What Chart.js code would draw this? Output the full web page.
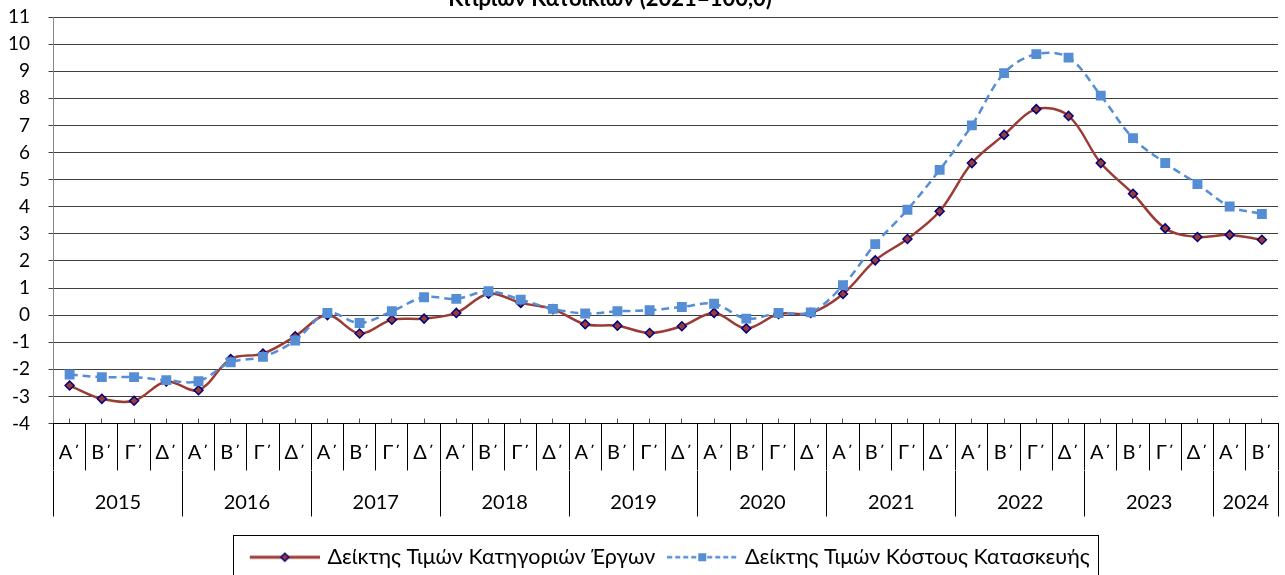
<!DOCTYPE html>
<html lang="el">
<head>
<meta charset="utf-8">
<script src="https://cdn.jsdelivr.net/npm/chart.js@4.4.1/dist/chart.umd.min.js"></script>
<style>
  html, body { margin: 0; padding: 0; background: #fff; }
  #wrap { position: relative; width: 1285px; height: 575px; overflow: hidden; }
</style>
</head>
<body>
<div id="wrap"><canvas id="chart" width="1285" height="575"></canvas></div>
<script>
// --- DATA ---
const titleText = 'Κτιρίων Κατοικιών (2021=100,0)';
const years = ['2015', '2016', '2017', '2018', '2019', '2020', '2021', '2022', '2023', '2024'];
const quartersPerYear = [4, 4, 4, 4, 4, 4, 4, 4, 4, 2];
const quarterNames = ['Α΄', 'Β΄', 'Γ΄', 'Δ΄'];

const worksLabel = 'Δείκτης Τιμών Κατηγοριών Έργων';
const worksIndex = [
  -2.60, -3.09, -3.16, -2.45,   // 2015
  -2.77, -1.62, -1.42, -0.78,   // 2016
   0.00, -0.68, -0.17, -0.13,   // 2017
   0.08,  0.79,  0.45,  0.22,   // 2018
  -0.34, -0.39, -0.66, -0.41,   // 2019
   0.08, -0.49,  0.04,  0.08,   // 2020
   0.78,  2.02,  2.81,  3.83,   // 2021
   5.61,  6.65,  7.60,  7.35,   // 2022
   5.61,  4.48,  3.20,  2.88,   // 2023
   2.96,  2.78                  // 2024
];

const costLabel = 'Δείκτης Τιμών Κόστους Κατασκευής';
const costIndex = [
  -2.19, -2.29, -2.29, -2.40,
  -2.44, -1.74, -1.54, -0.94,
   0.08, -0.29,  0.14,  0.66,
   0.60,  0.88,  0.57,  0.23,
   0.06,  0.14,  0.18,  0.30,
   0.42, -0.13,  0.08,  0.10,
   1.10,  2.62,  3.89,  5.36,
   7.00,  8.93,  9.63,  9.50,
   8.10,  6.53,  5.61,  4.84,
   4.01,  3.73
];

const yMin = -4;
const yMax = 11;

// --- COLOURS / FONTS ---
const RED = '#9c3b34';
const NAVY = '#000080';
const BLUE = '#558ed5';
const TICK_FONT = { family: 'Lato', size: 19 };
const CAT_FONT = { family: 'Lato', size: 20 };
const LEGEND_FONT = { family: 'Lato', size: 21.5 };

// quarter categories built from the year layout
const categories = [];
quartersPerYear.forEach(n => {
  for (let q = 0; q < n; q++) categories.push(quarterNames[q]);
});

// year axis ticks: borders between years plus a labelled tick in each year's middle
const yearTicks = [];
const yearAtValue = new Map();
let startIdx = 0;
quartersPerYear.forEach((n, i) => {
  yearTicks.push(startIdx - 0.5);
  const mid = startIdx + (n - 1) / 2;
  yearTicks.push(mid);
  yearAtValue.set(mid, years[i]);
  startIdx += n;
});
yearTicks.push(startIdx - 0.5);

// the legend in the original sits a little right of centre:
// a lead-in of spaces on the first entry nudges the whole row over
const LEAD = '  ';
const measure = document.createElement('canvas').getContext('2d');
measure.font = LEGEND_FONT.size + 'px ' + LEGEND_FONT.family;
const leadWidth = measure.measureText(LEAD).width;

// --- LEGEND SAMPLES (line with marker, like the spreadsheet) ---
function makeSample(kind, shift) {
  const c = document.createElement('canvas');
  c.width = 70 + 2 * shift; c.height = 16;
  const g = c.getContext('2d');
  g.translate(2 * shift, 0);
  if (kind === 'works') {
    g.strokeStyle = RED; g.lineWidth = 3;
    g.beginPath(); g.moveTo(0, 8); g.lineTo(70, 8); g.stroke();
    g.beginPath();
    g.moveTo(35, 4); g.lineTo(39, 8); g.lineTo(35, 12); g.lineTo(31, 8); g.closePath();
    g.fillStyle = RED; g.fill();
    g.strokeStyle = NAVY; g.lineWidth = 1.5; g.stroke();
  } else {
    g.strokeStyle = BLUE; g.lineWidth = 2.5;
    g.setLineDash([5, 3]);
    g.beginPath(); g.moveTo(0, 8); g.lineTo(70, 8); g.stroke();
    g.fillStyle = BLUE;
    g.fillRect(31, 4, 8, 8);
  }
  return c;
}
const legendSamples = [makeSample('works', leadWidth), makeSample('cost', 0)];
const legendTexts = [LEAD + worksLabel, costLabel];

// --- PLUGINS ---
const cutTitle = {
  id: 'cutTitle',
  afterDraw(chart) {
    const ctx = chart.ctx;
    ctx.save();
    ctx.font = 'bold 22px Lato';
    ctx.fillStyle = '#000';
    ctx.textAlign = 'center';
    ctx.textBaseline = 'alphabetic';
    ctx.fillText(titleText, 610, 6);
    ctx.restore();
  }
};

const legendFrame = {
  id: 'legendFrame',
  afterDraw(chart) {
    const lg = chart.legend;
    const hb = lg.legendHitBoxes;
    if (!hb || !hb.length) return;
    const last = hb[hb.length - 1];
    const x0 = Math.round(hb[0].left + leadWidth - 20) + 0.5;
    const x1 = Math.round(last.left + last.width + 8) + 0.5;
    const y0 = Math.round(lg.top + 3) + 0.5;
    const ctx = chart.ctx;
    ctx.save();
    ctx.strokeStyle = '#000';
    ctx.lineWidth = 1;
    ctx.strokeRect(x0, y0, x1 - x0, 60);
    ctx.restore();
  }
};

// --- CHART ---
new Chart(document.getElementById('chart'), {
  type: 'line',
  data: {
    labels: categories,
    datasets: [
      {
        label: worksLabel,
        data: worksIndex,
        borderColor: RED,
        borderWidth: 2.5,
        tension: 0.35,
        pointStyle: 'rectRot',
        pointRadius: 4.5,
        pointBackgroundColor: RED,
        pointBorderColor: NAVY,
        pointBorderWidth: 1.5,
        order: 1
      },
      {
        label: costLabel,
        data: costIndex,
        borderColor: BLUE,
        borderWidth: 2.5,
        borderDash: [8, 5],
        tension: 0.35,
        pointStyle: 'rect',
        pointRadius: 7,
        pointBackgroundColor: BLUE,
        pointBorderWidth: 0,
        order: 0
      }
    ]
  },
  options: {
    responsive: false,
    animation: false,
    devicePixelRatio: 1,
    layout: { padding: { top: 17, left: 0, right: 3, bottom: -3 } },
    plugins: {
      title: { display: false },
      tooltip: { enabled: false },
      legend: {
        position: 'bottom',
        fullSize: false,
        labels: {
          usePointStyle: true,
          pointStyleWidth: 64,
          padding: 15,
          color: '#000',
          font: LEGEND_FONT,
          generateLabels: chart => chart.data.datasets.map((ds, i) => ({
            text: legendTexts[i],
            pointStyle: legendSamples[i],
            fillStyle: ds.borderColor,
            strokeStyle: ds.borderColor,
            lineWidth: 0,
            hidden: false,
            datasetIndex: i
          }))
        }
      }
    },
    scales: {
      y: {
        min: yMin,
        max: yMax,
        ticks: { stepSize: 1, padding: 18.5, color: '#000', font: TICK_FONT },
        grid: { color: '#404040', lineWidth: 1, tickLength: 5 },
        border: { color: '#868686', width: 1 },
        afterFit: s => { s.width = 53.5; s.paddingTop = 0; s.paddingBottom = 0; }
      },
      inner: {
        type: 'category',
        position: 'bottom',
        offset: true,
        weight: 0,
        ticks: { display: false },
        grid: { drawOnChartArea: false, offset: false, tickLength: -5, color: '#555' },
        border: { display: false },
        afterFit: s => { s.height = 0; }
      },
      x: {
        type: 'category',
        position: 'bottom',
        offset: true,
        weight: 1,
        ticks: { color: '#000', font: CAT_FONT, padding: -29.5, autoSkip: false, maxRotation: 0 },
        grid: { drawOnChartArea: false, offset: true, tickLength: 47, color: '#000' },
        border: { color: '#000', width: 1 },
        afterFit: s => { s.height = 47; }
      },
      years: {
        type: 'linear',
        position: 'bottom',
        min: -0.5,
        max: categories.length - 0.5,
        weight: 2,
        afterBuildTicks: s => { s.ticks = yearTicks.map(v => ({ value: v })); },
        ticks: {
          color: '#000', font: CAT_FONT, padding: -26, autoSkip: false, maxRotation: 0,
          callback: v => yearAtValue.get(v) || ''
        },
        grid: {
          drawOnChartArea: false,
          tickLength: 46,
          color: c => (c.tick && yearAtValue.has(c.tick.value)) ? 'rgba(0,0,0,0)' : '#000'
        },
        border: { display: false },
        afterFit: s => { s.height = 61; }
      }
    }
  },
  plugins: [cutTitle, legendFrame]
});
</script>
</body>
</html>
